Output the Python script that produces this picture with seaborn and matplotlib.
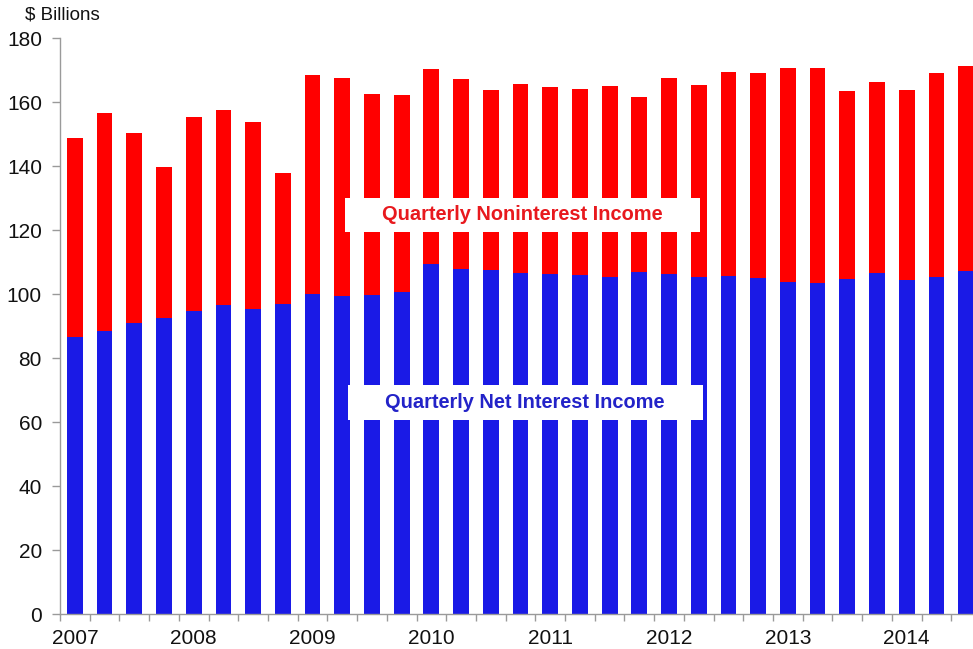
import matplotlib
matplotlib.use("Agg")
import matplotlib.pyplot as plt
from matplotlib.patches import Rectangle
import seaborn as sns
import pandas as pd

# Quarterly income of insured institutions, $ billions (2007 Q1 - 2014 Q3)
quarters = [f"{y} Q{q}" for y in range(2007, 2015) for q in range(1, 5)][:31]
net_interest = [86.5, 88.4, 90.9, 92.5, 94.7, 96.7, 95.3, 97.0,
                100.0, 99.4, 99.6, 100.7, 109.5, 107.8, 107.5, 106.5,
                106.3, 105.9, 105.3, 106.9, 106.3, 105.4, 105.7, 105.1,
                103.8, 103.4, 104.6, 106.5, 104.3, 105.4, 107.1]
total_income = [148.8, 156.7, 150.2, 139.6, 155.3, 157.6, 153.8, 137.7,
                168.4, 167.6, 162.4, 162.2, 170.3, 167.3, 163.8, 165.6,
                164.6, 164.1, 164.9, 161.6, 167.6, 165.4, 169.5, 169.0,
                170.6, 170.6, 163.5, 166.3, 163.8, 169.0, 171.3]
year_labels = ["2007", "2008", "2009", "2010", "2011", "2012", "2013", "2014"]

df = pd.DataFrame({"quarter": quarters,
                   "net_interest": net_interest,
                   "total": total_income})

sns.set_theme(style="white")
plt.rcParams["font.family"] = ["Liberation Sans", "DejaVu Sans"]

RED = "#FF0000"
BLUE = "#1A1AE6"
GRAY = "#9A9A9A"

fig = plt.figure(figsize=(9.73, 6.49), dpi=100)
ax = fig.add_axes([60 / 973, 35 / 649, 921 / 973, 576 / 649])

# Noninterest income stacked on top of net interest income
sns.barplot(data=df, x="quarter", y="total", color=RED, width=0.53,
            saturation=1, linewidth=0, ax=ax)
sns.barplot(data=df, x="quarter", y="net_interest", color=BLUE, width=0.53,
            saturation=1, linewidth=0, ax=ax)

n = len(quarters)
ax.set_xlim(-0.5, n - 0.5)
ax.set_ylim(0, 180)
ax.set_xlabel("")
ax.set_ylabel("")

# Year labels under each first quarter, tick marks between quarters
ax.set_xticks(range(0, n, 4))
ax.set_xticklabels(year_labels, fontsize=15, color="#111111")
ax.set_xticks([k - 0.5 for k in range(n + 1)], minor=True)
ax.tick_params(axis="x", which="major", length=0, pad=11)
ax.tick_params(axis="x", which="minor", length=5, width=1, color=GRAY,
               direction="out", bottom=True)
ax.set_yticks(range(0, 181, 20))
ax.set_yticklabels([str(v) for v in range(0, 181, 20)], fontsize=15,
                   color="#111111")
ax.tick_params(axis="y", length=6, width=1, color=GRAY, direction="out",
               left=True, pad=7)

for side in ["top", "right"]:
    ax.spines[side].set_visible(False)
for side in ["left", "bottom"]:
    ax.spines[side].set_color(GRAY)
    ax.spines[side].set_linewidth(1)

fig.text(25 / 973, 1 - 15 / 649, "$ Billions", fontsize=13.5,
         color="#111111", va="center", ha="left")

# Series labels on white panels across the bars
ax.add_patch(Rectangle((9.1, 119.4), 11.95, 10.6, facecolor="white",
                       edgecolor="none", zorder=5))
ax.text(15.05, 124.7, "Quarterly Noninterest Income", color="#E8191E",
        fontsize=14.4, fontweight="bold", ha="center", va="center", zorder=6)
ax.add_patch(Rectangle((9.2, 60.6), 11.95, 11.0, facecolor="white",
                       edgecolor="none", zorder=5))
ax.text(15.15, 66.0, "Quarterly Net Interest Income", color="#2323C8",
        fontsize=14.4, fontweight="bold", ha="center", va="center", zorder=6)

fig.savefig("out.png", dpi=100)
